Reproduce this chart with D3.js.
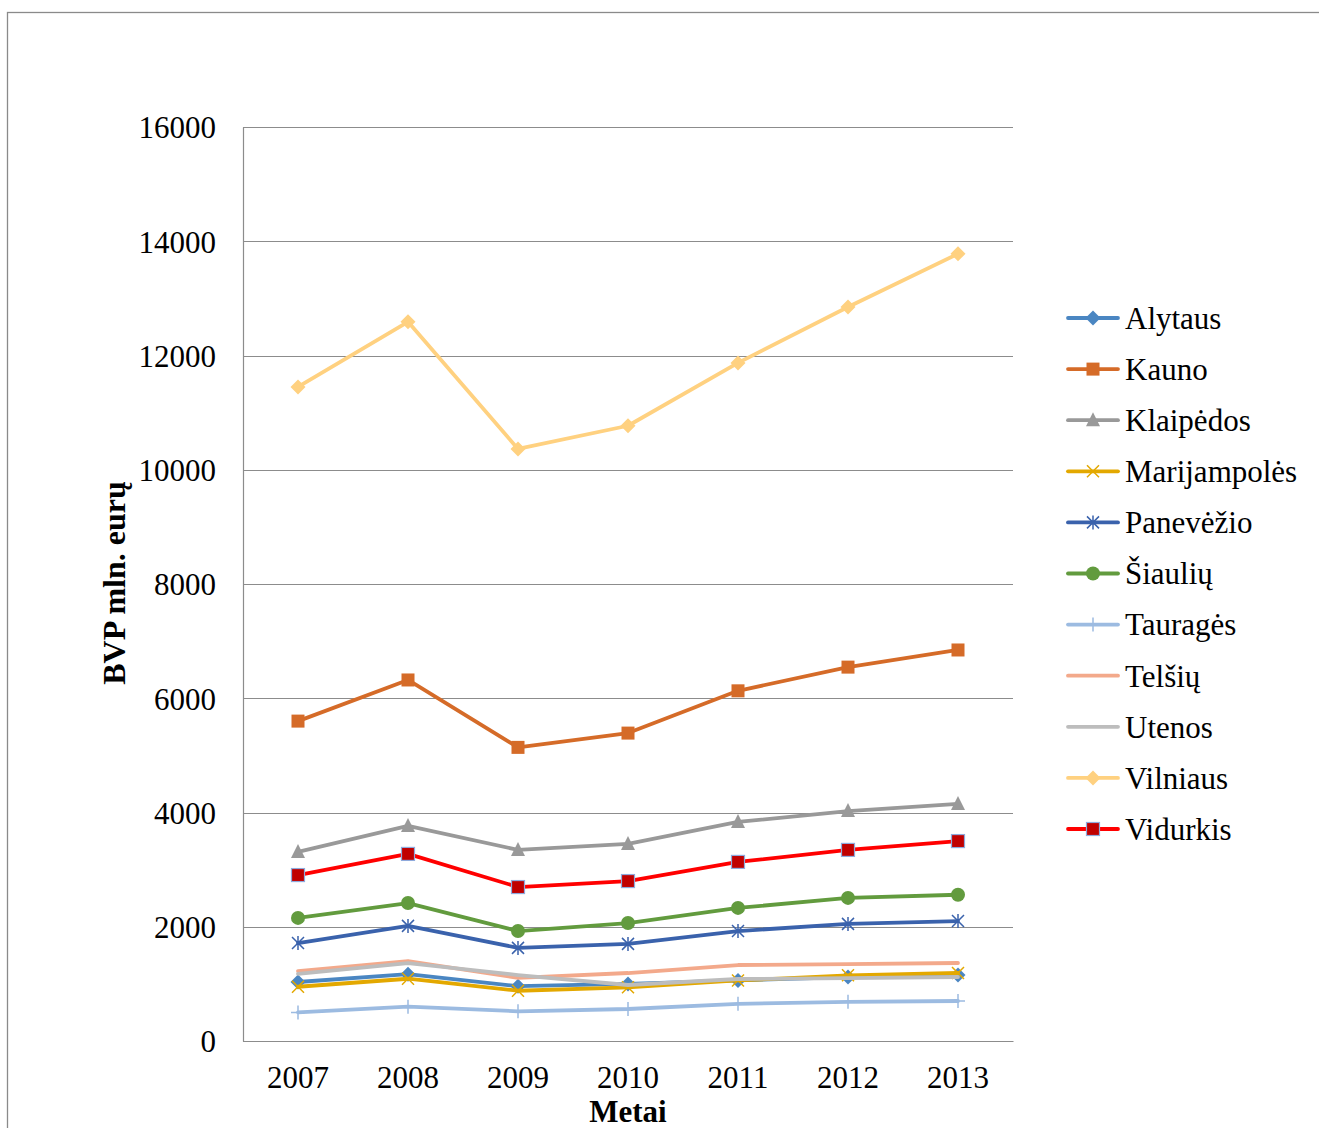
<!DOCTYPE html>
<html>
<head>
<meta charset="utf-8">
<script src="https://cdn.jsdelivr.net/npm/d3@7"></script>
<style>
  html, body { margin: 0; padding: 0; background: #fff; }
  svg { display: block; }
  text { font-family: "Liberation Serif", "Times New Roman", serif; fill: #000; }
</style>
</head>
<body>
<svg id="chart" width="1319" height="1128"></svg>
<script>
const years = ["2007", "2008", "2009", "2010", "2011", "2012", "2013"];
const yTicks = [0, 2000, 4000, 6000, 8000, 10000, 12000, 14000, 16000];

const alytaus      = [1033, 1170, 960, 1000, 1060, 1120, 1155];
const kauno        = [5600, 6320, 5140, 5390, 6130, 6545, 6845];
const klaipedos    = [3310, 3765, 3345, 3450, 3835, 4025, 4150];
const marijampoles = [950, 1090, 880, 940, 1060, 1150, 1190];
const panevezio    = [1715, 2015, 1630, 1700, 1925, 2050, 2100];
const siauliu      = [2155, 2415, 1925, 2065, 2330, 2505, 2560];
const taurages     = [500, 600, 520, 560, 650, 685, 700];
const telsiu       = [1225, 1400, 1105, 1190, 1330, 1345, 1365];
const utenos       = [1175, 1365, 1155, 980, 1085, 1100, 1120];
const vilniaus     = [11450, 12590, 10365, 10770, 11870, 12850, 13780];
const vidurkis     = [2905, 3275, 2695, 2800, 3135, 3345, 3500];

const seriesNames = ["Alytaus", "Kauno", "Klaipėdos", "Marijampolės", "Panevėžio", "Šiaulių", "Tauragės", "Telšių", "Utenos", "Vilniaus", "Vidurkis"];
const seriesValues = [alytaus, kauno, klaipedos, marijampoles, panevezio, siauliu, taurages, telsiu, utenos, vilniaus, vidurkis];
const seriesColors = ["#4A86C2", "#D56B28", "#999999", "#E3A800", "#3A62AC", "#629B3E", "#9CBBE1", "#F3A98B", "#BDBDBD", "#FFD180", "#FF0000"];
const seriesMarkers = ["diamond", "square", "triangle", "x", "asterisk", "circle", "plus", "none", "none", "diamond", "squareRed"];

const yTitle = "BVP mln. eurų";
const xTitle = "Metai";

const svg = d3.select("#chart");
const FONT = 31;
const LW = 3.8;

// outer frame
svg.append("rect").attr("x", 7.5).attr("y", 12.5).attr("width", 1330).attr("height", 1130)
  .attr("fill", "none").attr("stroke", "#8a8a8a").attr("stroke-width", 1.3);

const plot = { left: 243, right: 1013, top: 127, bottom: 1041 };

const x = d3.scaleBand().domain(years).range([plot.left, plot.right]).padding(0);
const y = d3.scaleLinear().domain([0, 16000]).range([plot.bottom, plot.top]);

// gridlines
svg.append("g").selectAll("line").data(yTicks).join("line")
  .attr("x1", plot.left).attr("x2", plot.right)
  .attr("y1", d => Math.round(y(d)) + 0.5).attr("y2", d => Math.round(y(d)) + 0.5)
  .attr("stroke", "#8c8c8c").attr("stroke-width", 1.2);

// y axis
const yAxis = d3.axisLeft(y).tickValues(yTicks).tickSize(0).tickPadding(27).tickFormat(d3.format("d"));
const gy = svg.append("g").attr("transform", `translate(${plot.left},0)`).call(yAxis);
gy.select(".domain").attr("stroke", "#8c8c8c").attr("stroke-width", 1.2);
gy.selectAll("text").style("font-size", FONT + "px").style("font-family", "Liberation Serif").attr("fill", "#000").attr("dy", "0.35em");

// x axis
const xAxis = d3.axisBottom(x).tickSize(0).tickPadding(25);
const gx = svg.append("g").attr("transform", `translate(0,${plot.bottom})`).call(xAxis);
gx.select(".domain").attr("stroke", "#8c8c8c").attr("stroke-width", 1.2);
gx.selectAll("text").style("font-size", FONT + "px").style("font-family", "Liberation Serif").attr("fill", "#000");

// axis titles
svg.append("text").attr("transform", `translate(114,${583}) rotate(-90)`)
  .attr("text-anchor", "middle").attr("dy", "0.35em")
  .style("font-size", "32px").style("font-weight", "bold").text(yTitle);
svg.append("text").attr("x", (plot.left + plot.right) / 2).attr("y", 1122)
  .attr("text-anchor", "middle")
  .style("font-size", "31px").style("font-weight", "bold").text(xTitle);

function drawMarker(g, type, color, cx, cy) {
  const s = 6;
  if (type === "diamond") {
    g.append("path").attr("d", `M${cx},${cy - 7.5}L${cx + 7.5},${cy}L${cx},${cy + 7.5}L${cx - 7.5},${cy}Z`).attr("fill", color);
  } else if (type === "square") {
    g.append("rect").attr("x", cx - 6.5).attr("y", cy - 6.5).attr("width", 13).attr("height", 13).attr("fill", color);
  } else if (type === "squareRed") {
    g.append("rect").attr("x", cx - 6.5).attr("y", cy - 6.5).attr("width", 13).attr("height", 13)
      .attr("fill", "#C00000").attr("stroke", "#8FAADC").attr("stroke-width", 1.2);
  } else if (type === "triangle") {
    g.append("path").attr("d", `M${cx},${cy - 8}L${cx + 7},${cy + 6}L${cx - 7},${cy + 6}Z`).attr("fill", color);
  } else if (type === "circle") {
    g.append("circle").attr("cx", cx).attr("cy", cy).attr("r", 7).attr("fill", color);
  } else if (type === "x") {
    g.append("path").attr("d", `M${cx - s},${cy - s}L${cx + s},${cy + s}M${cx - s},${cy + s}L${cx + s},${cy - s}`)
      .attr("stroke", color).attr("stroke-width", 1.5);
  } else if (type === "asterisk") {
    g.append("path").attr("d", `M${cx - s},${cy - s}L${cx + s},${cy + s}M${cx - s},${cy + s}L${cx + s},${cy - s}M${cx},${cy - 7}L${cx},${cy + 7}`)
      .attr("stroke", color).attr("stroke-width", 1.5);
  } else if (type === "plus") {
    g.append("path").attr("d", `M${cx - 7},${cy}L${cx + 7},${cy}M${cx},${cy - 7}L${cx},${cy + 7}`)
      .attr("stroke", color).attr("stroke-width", 1.5);
  }
}

const line = d3.line().x((d, i) => x(years[i]) + x.bandwidth() / 2).y(d => y(d));

seriesNames.forEach((name, si) => {
  const g = svg.append("g");
  g.append("path").datum(seriesValues[si]).attr("d", line)
    .attr("fill", "none").attr("stroke", seriesColors[si]).attr("stroke-width", LW)
    .attr("stroke-linejoin", "round").attr("stroke-linecap", "round");
  seriesValues[si].forEach((v, i) => drawMarker(g, seriesMarkers[si], seriesColors[si], x(years[i]) + x.bandwidth() / 2, y(v)));
});

// legend
const legendTop = 318, legendStep = 51.1;
seriesNames.forEach((name, si) => {
  const g = svg.append("g");
  const cy = legendTop + si * legendStep;
  g.append("line").attr("x1", 1068).attr("x2", 1118).attr("y1", cy).attr("y2", cy)
    .attr("stroke", seriesColors[si]).attr("stroke-width", LW).attr("stroke-linecap", "round");
  drawMarker(g, seriesMarkers[si], seriesColors[si], 1093, cy);
  g.append("text").attr("x", 1125).attr("y", cy).attr("dy", "0.35em")
    .style("font-size", FONT + "px").text(name);
});
</script>
</body>
</html>
